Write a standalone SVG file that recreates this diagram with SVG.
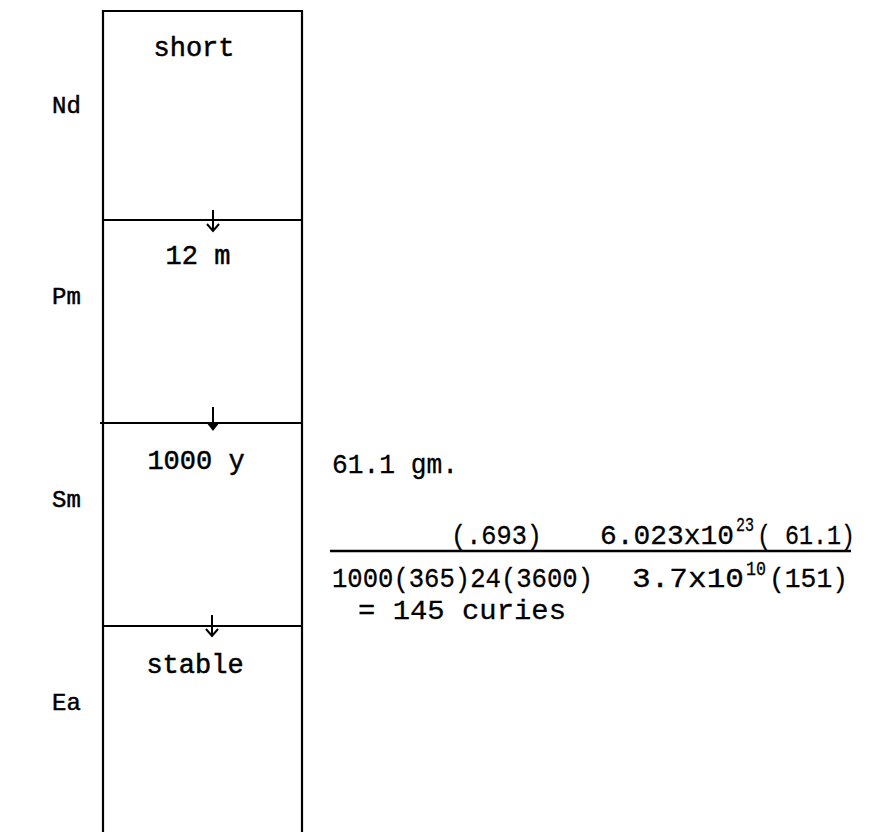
<svg xmlns="http://www.w3.org/2000/svg" width="875" height="832" viewBox="0 0 875 832">
<style>
.ln{stroke:#000;stroke-width:2.2;fill:none}
.ar{stroke:#000;stroke-width:2;fill:none}
.tw{font-family:"Liberation Mono","DejaVu Sans Mono",monospace;font-size:27px;fill:#000;stroke:#000;stroke-width:0.5}
.lb{font-family:"Liberation Mono","DejaVu Sans Mono",monospace;font-size:24px;fill:#000;stroke:#000;stroke-width:0.5}
.mt{font-family:"Liberation Mono","DejaVu Sans Mono",monospace;font-size:28px;fill:#000;stroke:#000;stroke-width:0.3}
.sp{font-family:"Liberation Mono","DejaVu Sans Mono",monospace;font-size:20px;fill:#000;stroke:#000;stroke-width:0.3}
</style>
<rect width="875" height="832" fill="#fff"/>
<g id="column">
<path class="ln" d="M103,832 V11 H302 V832"/>
</g>
<g id="nd">
<line class="ln" x1="103" y1="220" x2="302" y2="220"/>
<text class="tw" x="194" y="56" text-anchor="middle">short</text>
<text class="lb" x="52" y="113">Nd</text>
</g>
<g id="pm">
<line class="ln" x1="100" y1="423" x2="302" y2="423"/>
<text class="tw" x="198" y="264" text-anchor="middle">12 m</text>
<text class="lb" x="52" y="304">Pm</text>
</g>
<g id="sm">
<line class="ln" x1="103" y1="626" x2="302" y2="626"/>
<text class="tw" x="196" y="469" text-anchor="middle">1000 y</text>
<text class="lb" x="52" y="507">Sm</text>
</g>
<g id="ea">
<text class="tw" x="195" y="673" text-anchor="middle">stable</text>
<text class="lb" x="52" y="710">Ea</text>
</g>
<g id="connectors">
<path class="ar" d="M213,210 V231 M207,224 L213,231 L219,224"/>
<path class="ar" d="M213,407 V428"/>
<path d="M206,422 L220,422 L213,431 Z" fill="#000"/>
<path class="ar" d="M212,615 V636 M206,629 L212,636 L218,629"/>
</g>
<g id="calc">
<text class="mt" x="332" y="473" textLength="126" lengthAdjust="spacingAndGlyphs">61.1 gm.</text>
<text class="mt" x="451" y="544" textLength="91" lengthAdjust="spacingAndGlyphs">(.693)</text>
<text class="mt" x="600" y="544" textLength="134" lengthAdjust="spacingAndGlyphs">6.023x10</text>
<text class="sp" x="736" y="531" textLength="18" lengthAdjust="spacingAndGlyphs">23</text>
<text class="mt" x="757" y="544" textLength="98" lengthAdjust="spacingAndGlyphs">( 61.1)</text>
<line x1="330" y1="551" x2="851" y2="551" stroke="#000" stroke-width="2.5"/>
<text class="mt" x="332" y="587" textLength="261" lengthAdjust="spacingAndGlyphs">1000(365)24(3600)</text>
<text class="mt" x="632" y="587" textLength="112" lengthAdjust="spacingAndGlyphs">3.7x10</text>
<text class="sp" x="746" y="575" textLength="20" lengthAdjust="spacingAndGlyphs">10</text>
<text class="mt" x="769" y="587" textLength="79" lengthAdjust="spacingAndGlyphs">(151)</text>
<text class="mt" x="358" y="619" textLength="208" lengthAdjust="spacingAndGlyphs">= 145 curies</text>
</g>
</svg>
